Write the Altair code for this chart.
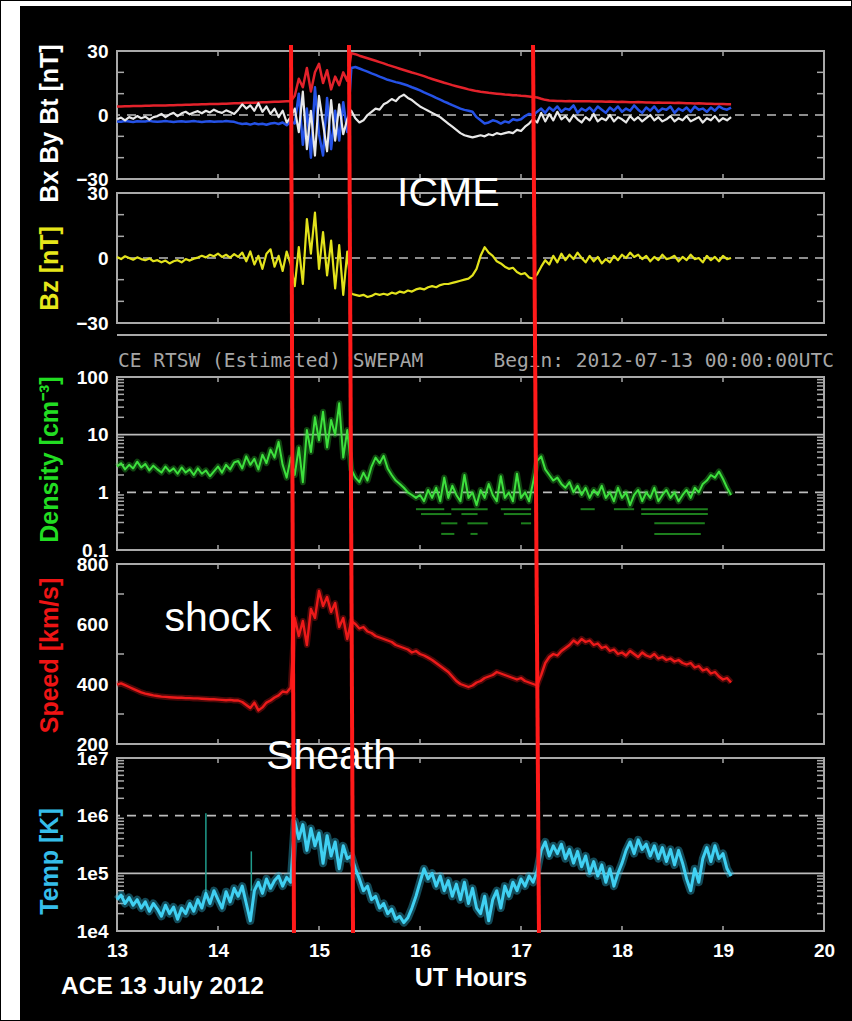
import altair as alt
import pandas as pd

# ---- sampled series: one value every STEP hours starting at T0 ----
T0 = 13.0
STEP = 0.04

# magnetic field [nT]
bt = [4.0, 4.0, 4.1, 4.1, 4.2, 4.2, 4.2, 4.3, 4.3, 4.4,
      4.4, 4.5, 4.5, 4.6, 4.6, 4.7, 4.7, 4.8, 4.8, 4.9,
      4.9, 5.0, 5.0, 5.1, 5.1, 5.2, 5.3, 5.3, 5.4, 5.5,
      5.5, 5.6, 5.7, 5.7, 5.8, 5.9, 6.0, 6.0, 6.1, 6.2,
      6.2, 6.3, 6.4, 6.4, 9, 17, 13, 22, 11, 20,
      24, 15, 21, 12, 18, 14, 20, 16, 29.0, 28.5,
      27.8, 27.2, 26.6, 26.0, 25.4, 24.8, 24.2, 23.5, 22.9, 22.3,
      21.7, 21.1, 20.5, 19.9, 19.4, 18.8, 18.2, 17.5, 16.9, 16.3,
      15.7, 15.1, 14.6, 14.0, 13.5, 13.0, 12.5, 12.0, 11.6, 11.2,
      10.9, 10.7, 10.4, 10.2, 10.0, 9.8, 9.6, 9.5, 9.3, 9.2,
      9.0, 8.9, 8.7, 8.4, 8.2, 7.6, 7.1, 6.8, 6.7, 6.6,
      6.6, 6.5, 6.6, 6.5, 6.4, 6.5, 6.4, 6.4, 6.3, 6.3,
      6.3, 6.2, 6.3, 6.2, 6.1, 6.2, 6.1, 6.0, 6.0, 6.1,
      6.0, 5.9, 5.9, 5.8, 5.9, 5.8, 5.7, 5.7, 5.6, 5.7,
      5.6, 5.5, 5.5, 5.4, 5.5, 5.4, 5.3, 5.3, 5.2, 5.2,
      5.1, 5.0, 5.0]

bx = [-2.0, -1.2, -2.5, -1.0, -1.8, -0.5, -1.5, -0.8, -2.2, -1.0,
      -0.5, 0.5, -1.0, 0.2, 1.0, -0.5, 0.8, 1.5, 0.3, 1.2,
      1.8, 0.8, 2.0, 1.2, 2.5, 1.5, 1.0, 2.2, 1.4, 0.5,
      2.5, 5.0, 3.0, 4.5, 2.0, 5.5, 1.5, 4.0, 0.5, 3.0,
      -1.0, 2.0, -3.5, -1.0, 3, -8, 11, -16, 2, -19,
      9, -4, -17, 7, -12, 5, -9, -2, 2, -1.5,
      -3.5, -2.5, 0, 1.5, 3, 2.5, 5, 6, 7.5, 6.5,
      8.5, 9.5, 8, 7, 5.5, 4, 3, 2, 1, 0,
      -1, -2.5, -4, -5.5, -7, -8.5, -9.5, -10, -10.5, -10,
      -9.5, -10, -9, -9.5, -8.5, -9, -8.5, -8, -8.5, -7,
      -7.5, -5.5, -4, -2, -3.5, 1, -3, 0.5, -2.5, 1.5,
      -2, -0.5, -3, 0, -2, -3.5, -1, -2.5, 0.5, -3,
      -1.5, -2.5, 0, -3, -1, -2, -3.5, -0.5, -2.5, -1,
      -3, -1.5, 0, -2.5, -1, -3, -2, -0.5, -3, -1.5,
      -2.5, -0.5, -3, -2, -1, -3.5, -1.5, -2.5, -0.5, -3,
      -1.5, -2.5, -1]

by = [-3.0, -3.2, -2.8, -3.0, -3.3, -2.9, -3.1, -3.0, -2.7, -3.1,
      -3.2, -3.0, -2.8, -3.1, -3.3, -3.0, -2.9, -3.2, -3.0, -2.8,
      -3.1, -3.3, -3.0, -2.9, -3.2, -3.0, -3.1, -2.8, -3.0, -3.2,
      -3.8, -4.2, -4.0, -4.5, -3.9, -4.3, -4.1, -4.6, -4.0, -3.7,
      -4.2, -3.5, -4.8, -3.0, -4, 10, -14, 3, -20, 13,
      -9, -19, 8, -16, 2, -12, 6, -8, 22, 22.5,
      21.8, 21.0, 20.3, 19.5, 18.8, 18.0, 17.3, 16.5, 16.0, 15.4,
      15.0, 14.4, 13.8, 13.0, 12.3, 11.5, 10.6, 9.8, 9.0, 8.0,
      7.2, 6.3, 5.5, 4.6, 3.8, 3.0, 2.4, 2.0, 1.5, -1.0,
      -2.5, -4, -3.5, -2.5, -3, -4, -3, -3.5, -2, -2.5,
      -2, -0.5, 0.5, 0, 1.5, 3, 1, 3.5, 2, 4,
      1.5, 3, 2.5, 4.5, 1, 3, 2, 3.5, 1.5, 4,
      2.5, 1, 3.5, 2, 4, 1.5, 3, 2, 4.5, 2.5,
      1, 3.5, 2, 4, 1.5, 3, 2.5, 4, 1, 3,
      2, 3.5, 1.5, 4, 2.5, 3, 1.5, 3.5, 2, 4,
      3, 2.5, 3.5]

bz = [0.5, -0.5, 0.8, 0.0, -0.8, 0.3, -0.5, -1.0, -0.2, -1.5,
      -1.0, -2.0, -1.2, -2.5, -1.5, -1.0, -2.0, -0.5, -1.2, -0.3,
      0.2, 1.0, 0.3, 1.5, 0.8, 2.0, 0.5, 1.5, 0.2, 1.8,
      0.5, 2.5, -1.5, 3, -3, 1, -5, 2, 4, -4,
      1, -6, 3, -3, -13, 5, -12, 18, 2, 21,
      -5, 12, -8, 8, -14, 6, -17, 3, -16.5, -17,
      -17.5, -17, -18, -17.5, -16.5, -17, -16.5, -17, -16, -16.5,
      -15.5, -16, -15, -15.5, -14.5, -14, -14.5, -13.5, -13, -13.5,
      -12.5, -12, -12, -11.5, -11, -10.5, -10, -9.5, -8, -5,
      1, 5, 2.5, 1, -1.5, -2.5, -4, -5, -4.5, -6.5,
      -7.5, -7, -9, -9.5, -7.5, -4, -1, -3, 1, -2,
      2, -1, 1.5, -0.5, 2.5, 0, -2, 1, -1.5, 0.5,
      -2.5, -0.5, -2, 1, -1, 1.5, 0, 2.5, 0.5, 1.5,
      -0.5, 1, -1.5, 0.5, -1, 1.5, -0.5, 0, 1, -1.5,
      0.5, -1, 1.5, -0.5, 0, -2, 1, -1, 0.5, -1.5,
      1, -0.5, 0]

# proton density [cm^-3]
density = [2.8, 3.2, 2.5, 3.0, 2.6, 3.4, 2.7, 3.1, 2.4, 2.9,
           2.5, 2.2, 2.8, 2.3, 2.6, 2.1, 2.7, 2.2, 2.5, 2.0,
           2.6, 2.1, 2.4, 1.9, 2.3, 2.8, 2.2, 3.0, 2.5, 3.3,
           3.5, 2.6, 4.2, 3.0, 3.8, 2.5, 4.5, 3.2, 5.5, 4.0,
           7.5, 3.0, 1.8, 4.0, 2.0, 6, 1.5, 12, 5, 20,
           8, 25, 6, 18, 10, 35, 4, 12, 2.5, 1.8,
           1.5, 2.2, 1.6, 2.8, 4.0, 3.2, 4.3, 2.6, 2.0, 1.6,
           1.4, 1.2, 1.0, 0.9, 0.8, 0.9, 0.7, 1.1, 0.8, 1.2,
           0.7, 1.8, 0.8, 1.3, 0.9, 0.7, 2.0, 0.8, 1.0, 0.6,
           1.1, 0.8, 1.4, 0.9, 0.7, 1.9, 0.8, 1.0, 0.7, 2.1,
           0.8, 1.0, 0.7, 1.5, 3.5, 4.2, 2.5, 2.0, 1.6, 1.8,
           1.4, 1.2, 1.5, 1.0, 1.3, 0.9, 1.2, 0.8, 1.1, 0.9,
           1.3, 0.8, 1.0, 0.7, 1.2, 0.8, 1.0, 0.6, 0.9, 1.1,
           0.7, 1.0, 0.8, 1.2, 0.7, 0.9, 1.1, 0.8, 1.0, 0.7,
           0.9, 1.1, 0.8, 1.2, 1.0, 1.4, 1.6, 2.0, 1.8, 2.3,
           1.7, 1.2, 0.9]

# bulk speed [km/s]
speed = [398, 402, 396, 390, 384, 378, 372, 368, 365, 362,
         360, 358, 357, 356, 355, 354, 354, 353, 353, 352,
         352, 351, 350, 349, 349, 348, 347, 346, 347, 345,
         345, 340, 330, 320, 338, 312, 322, 338, 345, 355,
         362, 375, 372, 388, 620, 560, 610, 530, 650, 620,
         710, 660, 690, 640, 670, 590, 620, 550, 610, 600,
         585, 590, 575, 570, 560, 555, 550, 545, 540, 530,
         525, 520, 515, 505, 510, 500, 495, 488, 480, 470,
         460, 450, 440, 425, 410, 400, 395, 390, 395, 405,
         410, 420, 425, 430, 440, 435, 430, 425, 420, 415,
         420, 410, 405, 400, 395, 430, 470, 490, 500, 495,
         510, 520, 530, 545, 535, 550, 540, 545, 530, 535,
         520, 525, 510, 515, 500, 505, 495, 510, 500, 490,
         505, 495, 490, 500, 485, 490, 480, 485, 475, 480,
         470, 465, 470, 455, 460, 445, 450, 435, 440, 425,
         415, 420, 405]

# proton temperature [K]
temp = [3.5e4, 4.2e4, 3.0e4, 3.8e4, 2.8e4, 3.5e4, 2.5e4, 3.2e4, 2.2e4, 3.0e4,
        2.4e4, 1.8e4, 2.8e4, 2.0e4, 2.6e4, 1.6e4, 2.5e4, 2.0e4, 3.0e4, 2.2e4,
        3.5e4, 2.5e4, 4.5e4, 3.0e4, 5.0e4, 3.5e4, 2.5e4, 4.8e4, 3.2e4, 5.5e4,
        4.0e4, 6.0e4, 3.0e4, 1.5e4, 5.0e4, 7.0e4, 4.5e4, 8.0e4, 5.5e4, 7.5e4,
        9.0e4, 6.0e4, 8.5e4, 7.0e4, 8.0e5, 4.0e5, 7.0e5, 2.5e5, 6.0e5, 3.0e5,
        5.0e5, 1.5e5, 4.5e5, 2.0e5, 3.5e5, 1.2e5, 3.0e5, 1.8e5, 2.0e5, 1.2e5,
        8.0e4, 5.0e4, 6.0e4, 3.5e4, 4.0e4, 2.5e4, 3.0e4, 2.0e4, 2.4e4, 1.6e4,
        1.8e4, 1.4e4, 1.7e4, 2.5e4, 4.0e4, 7.0e4, 1.2e5, 8.0e4, 1.0e5, 6.0e4,
        9.0e4, 5.0e4, 7.5e4, 4.0e4, 6.5e4, 3.5e4, 7.0e4, 3.0e4, 5.5e4, 2.5e4,
        2.0e4, 4.0e4, 1.5e4, 3.5e4, 5.0e4, 2.5e4, 6.0e4, 4.0e4, 7.0e4, 5.0e4,
        8.0e4, 6.0e4, 9.0e4, 7.0e4, 1.1e5, 2.5e5, 3.5e5, 2.0e5, 3.0e5, 2.2e5,
        3.2e5, 1.8e5, 2.6e5, 1.5e5, 2.4e5, 1.3e5, 2.0e5, 1.0e5, 1.6e5, 9.0e4,
        1.4e5, 7.0e4, 1.2e5, 6.0e4, 1.0e5, 1.5e5, 2.5e5, 3.5e5, 2.2e5, 3.8e5,
        2.6e5, 3.2e5, 2.0e5, 3.0e5, 1.8e5, 2.8e5, 1.6e5, 2.6e5, 1.4e5, 2.5e5,
        1.5e5, 8.0e4, 5.0e4, 1.2e5, 7.0e4, 1.8e5, 2.8e5, 1.6e5, 3.0e5, 1.8e5,
        2.2e5, 1.2e5, 9.0e4]

# isolated temperature spikes
spike_t = [13.88, 14.33]
spike_lo = [4.0e4, 5.0e4]
spike_hi = [1.1e6, 2.4e5]

# low-count density levels (short horizontal dashes)
dash_start = [15.96, 16.31, 16.80, 17.59, 17.92, 18.19,
              16.01, 16.41, 16.83, 18.19,
              16.21, 16.47, 17.00, 18.32,
              16.21, 16.50, 18.32]
dash_end = [16.24, 16.67, 17.10, 17.73, 18.12, 18.85,
            16.31, 16.57, 17.10, 18.85,
            16.37, 16.67, 17.10, 18.82,
            16.34, 16.57, 18.78]
dash_level = [0.51, 0.51, 0.51, 0.51, 0.51, 0.51,
              0.42, 0.42, 0.42, 0.42,
              0.29, 0.29, 0.29, 0.29,
              0.19, 0.19, 0.19]

# boundaries: shock, sheath end / ICME start, ICME end (slightly tilted)
event_top = [14.723, 15.297, 17.119]
event_bottom = [14.752, 15.337, 17.178]

# annotations
note_text = ["ICME", "shock", "Sheath"]
note_hour = [16.28, 14.0, 15.12]

header_left = "CE RTSW (Estimated) SWEPAM"
header_right = "Begin: 2012-07-13 00:00:00UTC"
caption = "ACE 13 July 2012"

hours = [13, 14, 15, 16, 17, 18, 19, 20]
mag_labels = [-30, 0, 30]
mag_minor = [-20, -10, 10, 20]
dens_labels = [0.1, 1, 10, 100]
speed_labels = [200, 400, 600, 800]
speed_minor = [300, 500, 700]
temp_labels = [1e4, 1e5, 1e6, 1e7]

# ---- styling ----
W = 707
FONT = "Liberation Sans"
FRAME = "#a9a9a9"
GRID = "#bcbcbc"
XS = alt.Scale(domain=[13, 20], nice=False, zero=False)
FRAME_VIEW = alt.ViewBackground(stroke=FRAME, strokeWidth=2)


def series(vals):
    return pd.DataFrame({"t": [round(T0 + STEP * i, 3) for i in range(len(vals))], "v": vals})


def one():
    return pd.DataFrame({"k": [0]})


def y_axis(values, title, color, title_y, fmt=None, expr=None):
    kw = dict(values=values, domain=False, ticks=False, grid=False,
              labelColor="white", labelFont=FONT, labelFontSize=19,
              labelFontWeight="bold", labelPadding=9, labelAlign="right",
              labelBaseline="middle", labelOverlap=False,
              title=title, titleColor=color, titleFont=FONT, titleFontSize=25,
              titleFontWeight="bold", titleAngle=270, titleX=-68, titleY=title_y,
              titleAlign="center", titleBaseline="middle", zindex=1)
    if fmt:
        kw["format"] = fmt
    if expr:
        kw["labelExpr"] = expr
    return alt.Axis(**kw)


X_AXIS = alt.Axis(values=hours, domain=False, ticks=False, grid=False, labelFlush=False,
                  labelColor="white", labelFont=FONT, labelFontSize=19, labelFontWeight="bold",
                  labelPadding=10, labelAngle=0, title="UT Hours", titleColor="white",
                  titleFont=FONT, titleFontSize=25, titleFontWeight="bold", titlePadding=5)


def frame_ticks(minor, ys, yax, h, xax=None):
    """Short inward ticks on the left/right edges and hourly ticks on top/bottom."""
    yd = pd.DataFrame({"y": minor})
    xd = pd.DataFrame({"t": hours[1:-1]})
    Y = alt.Y("y:Q", scale=ys, axis=yax)
    X = alt.X("t:Q", scale=XS, axis=xax)
    left = alt.Chart(yd).mark_rule(color=FRAME, strokeWidth=1.5).encode(
        y=Y, x=alt.value(0), x2=alt.value(7))
    right = alt.Chart(yd).mark_rule(color=FRAME, strokeWidth=1.5).encode(
        y=Y, x=alt.value(W - 7), x2=alt.value(W))
    top = alt.Chart(xd).mark_rule(color=FRAME, strokeWidth=1.5).encode(
        x=X, y=alt.value(0), y2=alt.value(5))
    bottom = alt.Chart(xd).mark_rule(color=FRAME, strokeWidth=1.5).encode(
        x=X, y=alt.value(h - 5), y2=alt.value(h))
    return [left, right, top, bottom]


def guide(values, ys, yax, dashed):
    kw = dict(color=GRID, strokeWidth=1.6)
    if dashed:
        kw["strokeDash"] = [9, 7]
    return alt.Chart(pd.DataFrame({"y": values})).mark_rule(**kw).encode(
        y=alt.Y("y:Q", scale=ys, axis=yax))


def trace(vals, ys, yax, color, width, opacity=1.0, xax=None):
    return alt.Chart(series(vals)).mark_line(color=color, strokeWidth=width, opacity=opacity,
                                             strokeJoin="round").encode(
        x=alt.X("t:Q", scale=XS, axis=xax), y=alt.Y("v:Q", scale=ys, axis=yax))


def note(i, ys, yax, y_px, xax=None):
    df = pd.DataFrame({"t": [note_hour[i]], "s": [note_text[i]]})
    return alt.Chart(df).mark_text(font=FONT, fontSize=41, color="white", align="center",
                                   baseline="alphabetic").encode(
        x=alt.X("t:Q", scale=XS, axis=xax), y=alt.value(y_px), text="s:N")


# ---- panel 1: Bx, By, Bt ----
H1 = 128
ys1 = alt.Scale(domain=[-30, 30], nice=False, zero=False)
ax1 = y_axis(mag_labels, "Bx By Bt [nT]", "white", 72)
# white page margin on the left and along the top; it also fixes the canvas extent
margin_left = alt.Chart(one()).mark_rect(color="white").encode(
    x=alt.value(-116), x2=alt.value(-97), y=alt.value(-50), y2=alt.value(969))
margin_top = alt.Chart(one()).mark_rect(color="white").encode(
    x=alt.value(-116), x2=alt.value(734), y=alt.value(-50), y2=alt.value(-45))
p1 = alt.layer(
    margin_left, margin_top,
    guide([0], ys1, ax1, True),
    *frame_ticks(mag_minor, ys1, ax1, H1),
    trace(bt, ys1, ax1, "#e3222b", 2.5),
    trace(by, ys1, ax1, "#2552e6", 2.5),
    trace(bx, ys1, ax1, "#e8e8e8", 2.2),
).properties(width=W, height=H1, view=FRAME_VIEW)

# ---- panel 2: Bz ----
H2 = 130
ys2 = alt.Scale(domain=[-30, 30], nice=False, zero=False)
ax2 = y_axis(mag_labels, "Bz [nT]", "#e6e61a", 75)
p2 = alt.layer(
    guide([0], ys2, ax2, True),
    *frame_ticks(mag_minor, ys2, ax2, H2),
    trace(bz, ys2, ax2, "#e2e21c", 2.2),
    note(0, ys2, ax2, 13),
).properties(width=W, height=H2, view=FRAME_VIEW)

# ---- header line between the two instrument blocks ----
header = alt.layer(
    alt.Chart(one()).mark_rule(color=FRAME, strokeWidth=2).encode(
        x=alt.value(0), x2=alt.value(W + 3), y=alt.value(-2)),
    alt.Chart(one()).mark_text(text=header_left, font="DejaVu Sans Mono", fontSize=19.5,
                               color="#a6a6a6", align="left", baseline="alphabetic").encode(
        x=alt.value(1), y=alt.value(30)),
    alt.Chart(one()).mark_text(text=header_right, font="DejaVu Sans Mono", fontSize=19.5,
                               color="#a6a6a6", align="right", baseline="alphabetic").encode(
        x=alt.value(717), y=alt.value(30)),
).properties(width=W, height=26, view=alt.ViewBackground(stroke="transparent"))

# ---- panel 3: density ----
H3 = 173
ys3 = alt.Scale(type="log", domain=[0.1, 100], nice=False)
ax3 = y_axis(dens_labels, "Density [cm⁻³]", "#22dd22", 82, fmt="~g")
dens_minor = [m * d for d in (0.1, 1, 10) for m in range(2, 10)]
dash_df = pd.DataFrame({"t0": dash_start, "t1": dash_end, "y": dash_level})
p3 = alt.layer(
    guide([10], ys3, ax3, False),
    guide([1], ys3, ax3, True),
    *frame_ticks(dens_minor, ys3, ax3, H3),
    alt.Chart(dash_df).mark_rule(color="#1d7f1d", strokeWidth=2).encode(
        x=alt.X("t0:Q", scale=XS, axis=None), x2="t1:Q",
        y=alt.Y("y:Q", scale=ys3, axis=ax3)),
    trace(density, ys3, ax3, "#2fc62f", 6, opacity=0.35),
    trace(density, ys3, ax3, "#3ee03e", 2),
).properties(width=W, height=H3, view=FRAME_VIEW)

# ---- panel 4: speed ----
H4 = 180
ys4 = alt.Scale(domain=[200, 800], nice=False, zero=False)
ax4 = y_axis(speed_labels, "Speed [km/s]", "#ee1414", 91)
p4 = alt.layer(
    *frame_ticks(speed_minor, ys4, ax4, H4),
    trace(speed, ys4, ax4, "#d81818", 6, opacity=0.35),
    trace(speed, ys4, ax4, "#ec1a1a", 2.4),
    note(1, ys4, ax4, 67),
).properties(width=W, height=H4, view=FRAME_VIEW)

# ---- panel 5: temperature, with time axis ----
H5 = 173
ys5 = alt.Scale(type="log", domain=[1e4, 1e7], nice=False)
ax5 = y_axis(temp_labels, "Temp [K]", "#35bdea", 103,
             expr="'1e' + format(log(datum.value) / LN10, '.0f')")
temp_minor = [m * d for d in (1e4, 1e5, 1e6) for m in range(2, 10)]
spike_df = pd.DataFrame({"t": spike_t, "lo": spike_lo, "hi": spike_hi})
event_df = pd.DataFrame({"t_top": event_top, "t_bot": event_bottom})
p5 = alt.layer(
    guide([1e6], ys5, ax5, True),
    guide([1e5], ys5, ax5, False),
    *frame_ticks(temp_minor, ys5, ax5, H5, xax=X_AXIS),
    alt.Chart(spike_df).mark_rule(color="#1f9c8c", strokeWidth=1.5).encode(
        x=alt.X("t:Q", scale=XS, axis=X_AXIS),
        y=alt.Y("lo:Q", scale=ys5, axis=ax5), y2="hi:Q"),
    trace(temp, ys5, ax5, "#2fb8dc", 8, opacity=0.4, xax=X_AXIS),
    trace(temp, ys5, ax5, "#40d0f2", 3, xax=X_AXIS),
    note(2, ys5, ax5, 11, xax=X_AXIS),
    alt.Chart(one()).mark_text(text=caption, font=FONT, fontSize=24.5, fontWeight="bold",
                               color="white", align="left", baseline="alphabetic").encode(
        x=alt.value(-56), y=alt.value(236)),
    # boundary lines run across every panel, from above the top panel to the time axis
    alt.Chart(event_df).mark_rule(color="#ff1a1a", strokeWidth=4).encode(
        x=alt.X("t_top:Q", scale=XS, axis=X_AXIS), x2="t_bot:Q",
        y=alt.value(-713), y2=alt.value(175)),
).properties(width=W, height=H5, view=FRAME_VIEW)

chart = alt.vconcat(p1, p2, header, p3, p4, p5, spacing=14, bounds="flush").properties(
    padding=0, background="black"
).configure_view(stroke="transparent")

chart.save("out.html", embed_options={"renderer": "svg", "actions": False})
